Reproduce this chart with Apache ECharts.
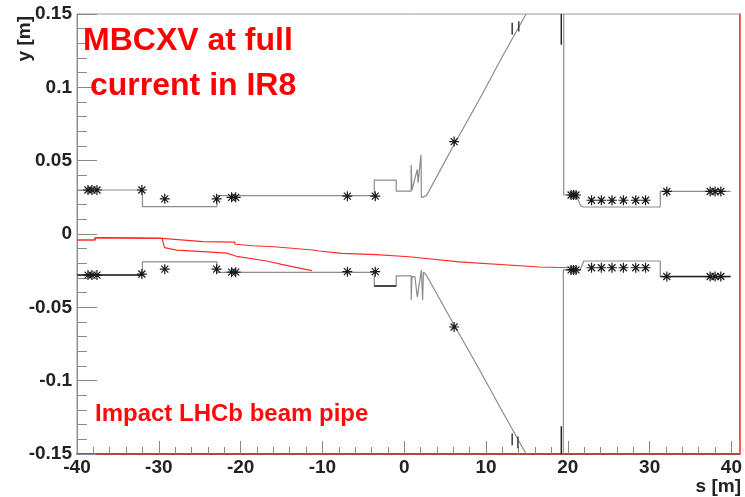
<!DOCTYPE html>
<html>
<head>
<meta charset="utf-8">
<script src="https://cdn.jsdelivr.net/npm/echarts@6/dist/echarts.min.js"></script>
<style>
  html, body { margin: 0; padding: 0; background: #fff; }
  #chart { width: 745px; height: 497px; }
</style>
</head>
<body>
<div id="chart"></div>
<script>
// Aperture envelope (s [m], y [m]) – upper side, from the left edge through the IP region
const upperAperture = [
  [-40, 0.030], [-32.0, 0.030], [-32.0, 0.0187], [-22.9, 0.0187], [-22.9, 0.0262],
  [-3.66, 0.0262], [-3.66, 0.0368], [-0.98, 0.0368], [-0.98, 0.0293], [0.85, 0.0293],
  [0.85, 0.047], [0.95, 0.030], [1.6, 0.044], [1.7, 0.035], [2.05, 0.054], [2.1, 0.025],
  [2.7, 0.026], [6.1, 0.061], [9.15, 0.0914], [12.0, 0.121], [14.9, 0.150]
];
// Upper side beyond the vertical scraper edge
const upperApertureRight = [
  [19.5, 0.150], [19.5, 0.0266], [21.0, 0.0266], [21.6, 0.0190], [21.95, 0.0184],
  [31.3, 0.0184], [31.3, 0.029], [39.9, 0.029]
];
// Lower side
const lowerAperture = [
  [-40, -0.028], [-32.0, -0.028], [-32.0, -0.019], [-22.9, -0.019], [-22.9, -0.0262],
  [-3.66, -0.0262], [-3.66, -0.0355], [-0.98, -0.0355], [-0.98, -0.0286], [0.85, -0.0286],
  [0.85, -0.045], [0.95, -0.029], [1.3, -0.029], [1.6, -0.043], [2.1, -0.0245],
  [2.25, -0.045], [2.35, -0.026], [2.7, -0.028], [6.1, -0.062], [9.15, -0.092],
  [12.0, -0.121], [14.9, -0.150]
];
const lowerApertureRight = [
  [19.45, -0.150], [19.45, -0.0245], [21.5, -0.0245], [21.95, -0.0184],
  [31.3, -0.0184], [31.3, -0.029], [39.9, -0.029]
];
// Darker overlapping element segments (null separates pieces)
const darkSegments = [
  [-40, -0.028], [-32.0, -0.028], null,
  [-3.66, -0.0355], [-0.98, -0.0355], null,
  [31.3, -0.029], [39.9, -0.029], null,
  [19.2, 0.150], [19.2, 0.129], null,
  [19.2, -0.131], [19.2, -0.150]
];
// Small notches on the tapered sections
const notchSegments = [
  [13.2, 0.144], [13.2, 0.136], null, [14.0, 0.145], [14.0, 0.138], null,
  [13.2, -0.136], [13.2, -0.144], null, [13.9, -0.138], [13.9, -0.146]
];
// Beam trajectories
const trajectoryA = [
  [-40, -0.0041], [-37.8, -0.0041], [-37.8, -0.0025], [-29.6, -0.0030], [-24.6, -0.0052],
  [-20.7, -0.0055], [-20.7, -0.0070], [-18.5, -0.0080], [-15.9, -0.0087], [-11.2, -0.0109],
  [-10.4, -0.0116], [-7.6, -0.0132], [-3.4, -0.0140], [-3.4, -0.0146], [0.6, -0.0155],
  [6.7, -0.0190], [16.5, -0.0225], [20.1, -0.0230]
];
const trajectoryB = [
  [-40, -0.0041], [-37.8, -0.0041], [-37.8, -0.0025], [-29.6, -0.0030], [-29.3, -0.0093],
  [-27.8, -0.0110], [-24.6, -0.0120], [-21.7, -0.0130], [-20.5, -0.0152], [-16.8, -0.0184],
  [-15.0, -0.0207], [-11.3, -0.0250]
];
// Element markers
const upperMarkers = [
  [-38.66, 0.030], [-38.17, 0.030], [-37.56, 0.030], [-32.07, 0.030], [-29.27, 0.024],
  [-22.93, 0.024], [-21.1, 0.025], [-20.6, 0.025], [-6.95, 0.0258], [-3.54, 0.0258],
  [6.1, 0.063], [20.4, 0.0266], [20.7, 0.0266], [21.0, 0.0266], [22.9, 0.023],
  [24.1, 0.023], [25.4, 0.023], [26.8, 0.023], [28.3, 0.023], [29.5, 0.023],
  [32.1, 0.029], [37.4, 0.029], [38.0, 0.029], [38.7, 0.029]
];
const lowerMarkers = [
  [-38.66, -0.028], [-38.17, -0.028], [-37.56, -0.028], [-32.07, -0.0273], [-29.27, -0.024],
  [-22.93, -0.024], [-21.1, -0.026], [-20.6, -0.026], [-6.95, -0.0257], [-3.54, -0.0257],
  [6.1, -0.0634], [20.4, -0.0245], [20.7, -0.0245], [21.0, -0.0245], [22.9, -0.023],
  [24.1, -0.023], [25.4, -0.023], [26.8, -0.023], [28.3, -0.023], [29.5, -0.023],
  [32.1, -0.029], [37.4, -0.029], [38.0, -0.029], [38.7, -0.029]
];
const xTickStep = 10;
const yTickStep = 0.05;

const FONT = "'Liberation Sans', Arial, Helvetica, sans-serif";
const STAR = 'path://M0,5L10,5M5,0L5,10M1.5,1.5L8.5,8.5M8.5,1.5L1.5,8.5';

function lineSeries(data, color, width, z) {
  return {
    type: 'line', data: data, showSymbol: false, symbol: 'none',
    connectNulls: false, animation: false, z: z || 2,
    lineStyle: { color: color, width: width }
  };
}
function markerSeries(data) {
  return {
    type: 'scatter', data: data, symbol: STAR, symbolSize: 10, animation: false, z: 5,
    itemStyle: { color: 'rgba(0,0,0,0)', borderColor: '#1a1a1a', borderWidth: 1.2, opacity: 1 }
  };
}

const chart = echarts.init(document.getElementById('chart'), null, { renderer: 'canvas' });
chart.setOption({
  backgroundColor: '#ffffff',
  animation: false,
  grid: { left: 77, right: 4, top: 14, bottom: 43, show: true, borderColor: '#9a9a9a', borderWidth: 1, backgroundColor: '#fff' },
  xAxis: {
    type: 'value', min: -40, max: 41, interval: xTickStep,
    axisLine: { onZero: false, lineStyle: { color: '#b0473c', width: 2 } },
    axisTick: { inside: true, length: 13, lineStyle: { color: '#8a8a8a', width: 1 } },
    minorTick: { show: true, splitNumber: 5, length: 7, lineStyle: { color: '#8a8a8a', width: 1 } },
    splitLine: { show: false },
    axisLabel: {
      margin: 4, fontFamily: FONT, fontWeight: 'bold', fontSize: 19, color: '#222',
      formatter: v => (Math.abs(v % xTickStep) < 1e-9 ? String(v) : '')
    }
  },
  yAxis: [{
    type: 'value', min: -0.15, max: 0.15, interval: yTickStep,
    axisLine: { show: true, onZero: false, lineStyle: { color: '#8a8a8a', width: 1 } },
    axisTick: { inside: true, length: 20, lineStyle: { color: '#8a8a8a', width: 1 } },
    minorTick: { show: true, splitNumber: 5, length: 10, lineStyle: { color: '#8a8a8a', width: 1 } },
    splitLine: { show: false },
    axisLabel: {
      margin: 5, fontFamily: FONT, fontWeight: 'bold', fontSize: 19, color: '#222',
      formatter: v => { const r = Math.round(v * 100) / 100; return r === 0 ? '0' : String(r); }
    }
  }, {
    type: 'value', min: -0.15, max: 0.15, position: 'right',
    axisLine: { show: true, onZero: false, lineStyle: { color: '#f23a1c', width: 1.5 } },
    axisTick: { show: false }, axisLabel: { show: false }, splitLine: { show: false }
  }],
  series: [
    lineSeries(upperAperture, '#8c8c8c', 1.2),
    lineSeries(upperApertureRight, '#8c8c8c', 1.2),
    lineSeries(lowerAperture, '#8c8c8c', 1.2),
    lineSeries(lowerApertureRight, '#8c8c8c', 1.2),
    lineSeries(darkSegments, '#222222', 1.4, 3),
    lineSeries(notchSegments, '#444444', 1.6, 3),
    lineSeries(trajectoryA, '#ff2a2a', 1.2, 4),
    lineSeries(trajectoryB, '#ff2a2a', 1.2, 4),
    markerSeries(upperMarkers),
    markerSeries(lowerMarkers)
  ],
  graphic: [
    { type: 'text', left: 83, top: 25, z: 10,
      style: { text: 'MBCXV at full', fill: '#ff0000', font: 'bold 32px ' + FONT } },
    { type: 'text', left: 90, top: 70, z: 10,
      style: { text: 'current in IR8', fill: '#ff0000', font: 'bold 32px ' + FONT } },
    { type: 'text', left: 95, top: 402, z: 10,
      style: { text: 'Impact LHCb beam pipe', fill: '#ff0a0a', font: 'bold 24px ' + FONT } },
    { type: 'text', right: 4, top: 477, z: 10,
      style: { text: 's [m]', fill: '#222', font: 'bold 19px ' + FONT } },
    { type: 'text', x: 25, y: 16, rotation: Math.PI / 2, z: 10,
      style: { text: 'y [m]', fill: '#222', font: 'bold 19px ' + FONT, align: 'right', verticalAlign: 'middle' } }
  ]
});
</script>
</body>
</html>
